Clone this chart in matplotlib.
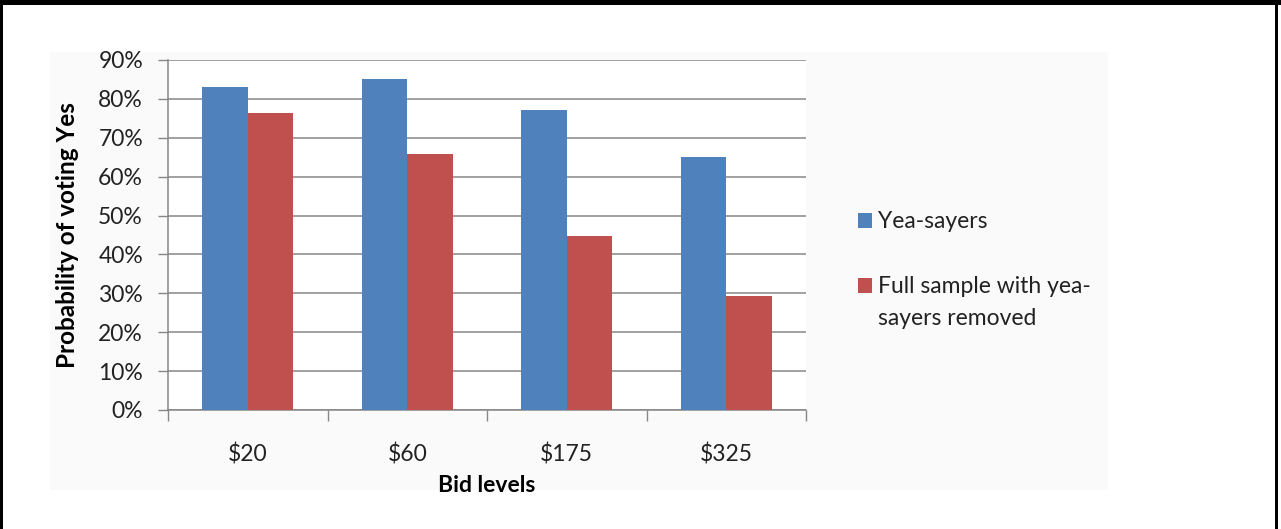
import matplotlib.pyplot as plt
from matplotlib.patches import Rectangle
from matplotlib.ticker import PercentFormatter, FixedLocator

# data
bids = ['$20', '$60', '$175', '$325']
yea_sayers = [83.1, 85.1, 77.1, 65.1]
full_sample = [76.5, 65.9, 44.8, 29.3]
series_names = ['Yea-sayers', 'Full sample with yea-\nsayers removed']
blue = '#4F81BD'
red = '#C0504D'

W, H = 1281, 529
plt.rcParams['font.family'] = ['Lato', 'DejaVu Sans']
FS = 16.5

fig = plt.figure(figsize=(W / 100, H / 100), dpi=100)
fig.patch.set_facecolor('white')


def px(x0, y0, x1, y1):
    # pixel box (top-left origin) -> figure fraction [l, b, w, h]
    return [x0 / W, 1 - y1 / H, (x1 - x0) / W, (y1 - y0) / H]


# chart area, black frame of the page
l, b, w, h = px(50, 52, 1108, 490)
fig.patches.append(Rectangle((l, b), w, h, transform=fig.transFigure,
                             facecolor='#fafafa', edgecolor='none', zorder=-5))
for box in [(0, 0, W, 5), (0, 0, 3, H), (1275, 0, 1278, H)]:
    l, b, w, h = px(*box)
    fig.patches.append(Rectangle((l, b), w, h, transform=fig.transFigure,
                                 facecolor='black', edgecolor='none', zorder=5))

ax = fig.add_axes(px(168, 60, 806, 410))
ax.set_facecolor('white')

bw = 1 / 3.5
xs = range(len(bids))
ax.bar([x - bw / 2 for x in xs], yea_sayers, bw, color=blue, zorder=3)
ax.bar([x + bw / 2 for x in xs], full_sample, bw, color=red, zorder=3)

ax.set_xlim(-0.5, len(bids) - 0.5)
ax.set_ylim(0, 90)
ax.set_yticks(range(0, 91, 10))
ax.yaxis.set_major_formatter(PercentFormatter(decimals=0))
ax.yaxis.grid(True, color='#868686', linewidth=1.1, zorder=1)
ax.set_axisbelow(True)

ax.set_xticks(list(xs))
ax.set_xticklabels(bids)
ax.xaxis.set_minor_locator(FixedLocator([i - 0.5 for i in range(len(bids) + 1)]))
ax.tick_params(axis='x', which='major', length=0, pad=24, labelsize=FS, colors='#222222')
ax.tick_params(axis='x', which='minor', length=8, width=1, color='#868686', direction='out')
ax.tick_params(axis='y', length=7, width=1, color='#868686', pad=11, labelsize=FS,
               labelcolor='#222222')

for s in ['top', 'right']:
    ax.spines[s].set_visible(False)
for s in ['left', 'bottom']:
    ax.spines[s].set_color('#868686')
    ax.spines[s].set_linewidth(1.1)

ax.set_ylabel('Probability of voting Yes', fontsize=17.5, fontweight='bold', labelpad=14)
ax.set_xlabel('Bid levels', fontsize=FS, fontweight='bold', labelpad=7)

# legend, drawn by hand to keep the square on the first line
for i, (name, col) in enumerate(zip(series_names, [blue, red])):
    base = [228, 293][i]
    l, b, w, h = px(858, base - 15, 872, base)
    fig.patches.append(Rectangle((l, b), w, h, transform=fig.transFigure,
                                 facecolor=col, edgecolor='none'))
    for j, line in enumerate(name.split('\n')):
        fig.text(878 / W, 1 - (base + 32 * j) / H, line, fontsize=FS,
                 va='baseline', ha='left', color='#222222')

fig.savefig('out.png', dpi=100)
